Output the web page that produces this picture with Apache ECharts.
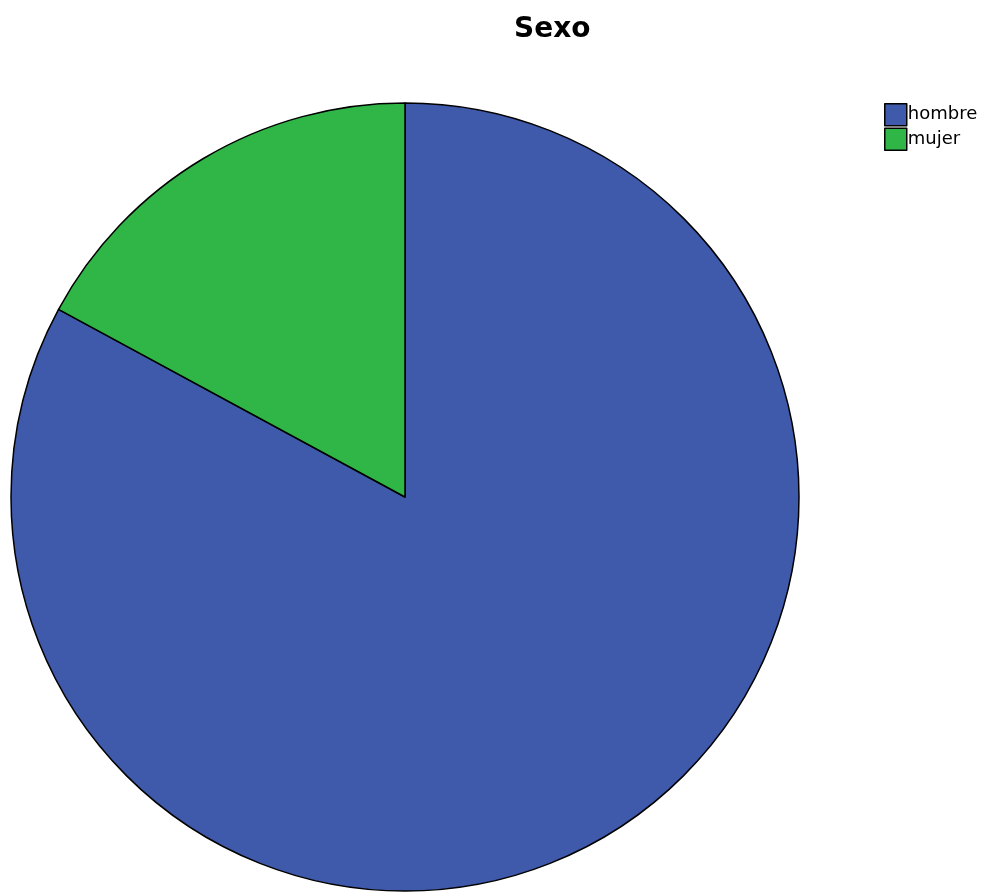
<!DOCTYPE html>
<html>
<head>
<meta charset="utf-8">
<script src="https://cdn.jsdelivr.net/npm/echarts@6/dist/echarts.min.js"></script>
<style>
  html, body { margin: 0; padding: 0; background: #fff; }
  #chart { width: 986px; height: 892px; }
</style>
</head>
<body>
<div id="chart"></div>
<script>
// Sexo: hombre / mujer (porcentaje)
const categories = ['hombre', 'mujer'];
const values = [82.9, 17.1];
const colors = ['#3f59ab', '#30b647'];

const chart = echarts.init(document.getElementById('chart'));
chart.setOption({
  animation: false,
  color: colors,
  title: {
    text: 'Sexo',
    left: 509,
    top: 11,
    textStyle: { fontFamily: 'DejaVu Sans', fontWeight: 'bold', fontSize: 28, color: '#000' }
  },
  legend: {
    orient: 'vertical',
    left: 884,
    top: 103,
    padding: 0,
    icon: 'rect',
    itemWidth: 22,
    itemHeight: 22,
    itemGap: 1,
    selectedMode: false,
    data: categories,
    itemStyle: { borderColor: '#000', borderWidth: 1.5 },
    textStyle: { fontFamily: 'DejaVu Sans', fontSize: 18, color: '#000', padding: [0, 0, 0, -4] }
  },
  series: [
    {
      type: 'pie',
      center: [405, 497],
      radius: 394,
      startAngle: 90,
      clockwise: true,
      label: { show: false },
      labelLine: { show: false },
      emphasis: { disabled: true },
      itemStyle: { borderColor: '#000', borderWidth: 1.5 },
      data: categories.map((name, i) => ({ name, value: values[i] }))
    }
  ]
});
</script>
</body>
</html>
